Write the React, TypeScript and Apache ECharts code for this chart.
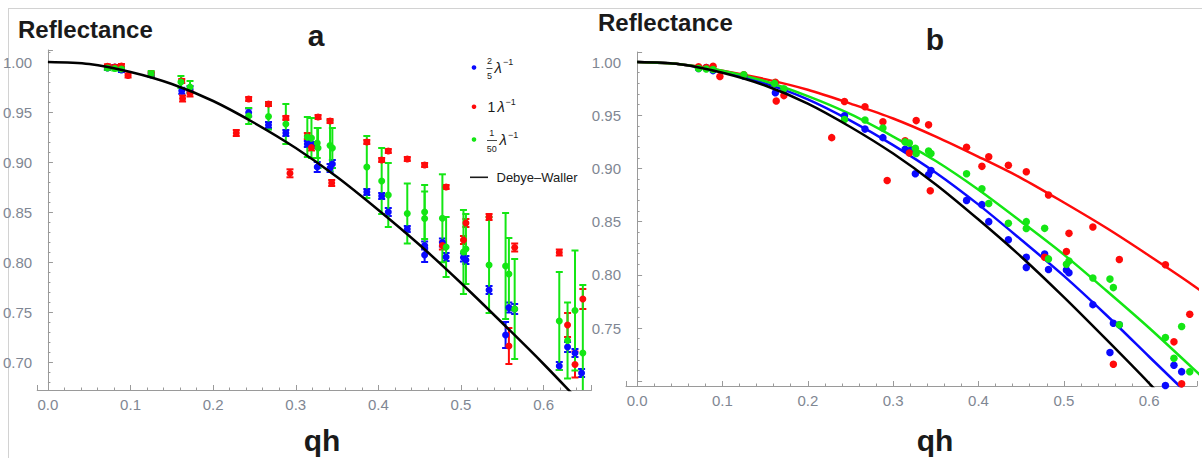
import React, { useEffect, useRef } from "react";
import * as echarts from "echarts";

// ---- data ----
// 2/5 λ^-1 (blue)
const blueQ = [0.072, 0.081, 0.089, 0.125, 0.162, 0.172, 0.243, 0.267, 0.288, 0.314, 0.32, 0.326, 0.3415, 0.3443, 0.386, 0.404, 0.412, 0.435, 0.456, 0.456, 0.4775, 0.482, 0.503, 0.506, 0.534, 0.554, 0.558, 0.565, 0.619, 0.629, 0.638, 0.646];
const blueR = [0.994, 0.995, 0.992, 0.987, 0.9712, 0.973, 0.9495, 0.937, 0.929, 0.918, 0.917, 0.895, 0.894, 0.898, 0.87, 0.866, 0.85, 0.833, 0.8165, 0.807, 0.8195, 0.805, 0.8045, 0.802, 0.772, 0.727, 0.7545, 0.753, 0.696, 0.715, 0.709, 0.689];
const blueErr = [0.002, 0.002, 0.002, 0.002, 0.003, 0.003, 0.004, 0.003, 0.003, 0.003, 0.003, 0.005, 0.004, 0.004, 0.003, 0.003, 0.004, 0.003, 0.004, 0.007, 0.004, 0.004, 0.004, 0.004, 0.004, 0.013, 0.005, 0.005, 0.004, 0.005, 0.004, 0.004];

// 1 λ^-1 (red)
const redQ = [0.072, 0.081, 0.089, 0.097, 0.125, 0.162, 0.163, 0.172, 0.228, 0.243, 0.267, 0.288, 0.293, 0.314, 0.319, 0.327, 0.3415, 0.3435, 0.386, 0.404, 0.412, 0.435, 0.456, 0.4775, 0.482, 0.503, 0.506, 0.534, 0.558, 0.565, 0.619, 0.629, 0.638, 0.6475];
const redR = [0.9957, 0.995, 0.996, 0.9865, 0.988, 0.981, 0.9635, 0.9685, 0.929, 0.963, 0.958, 0.944, 0.8887, 0.926, 0.9145, 0.945, 0.941, 0.879, 0.92, 0.902, 0.911, 0.903, 0.897, 0.8165, 0.875, 0.822, 0.839, 0.845, 0.716, 0.8145, 0.8095, 0.737, 0.6975, 0.763];
const redErr = [0.002, 0.002, 0.002, 0.002, 0.002, 0.002, 0.003, 0.003, 0.003, 0.002, 0.002, 0.002, 0.004, 0.003, 0.003, 0.002, 0.002, 0.003, 0.002, 0.002, 0.002, 0.002, 0.002, 0.004, 0.002, 0.004, 0.004, 0.003, 0.018, 0.004, 0.003, 0.012, 0.013, 0.01];

// 1/50 λ^-1 (green)
const greenQ = [0.072, 0.081, 0.089, 0.125, 0.161, 0.172, 0.243, 0.267, 0.288, 0.314, 0.319, 0.326, 0.327, 0.3415, 0.3443, 0.386, 0.404, 0.412, 0.435, 0.456, 0.456, 0.4775, 0.482, 0.503, 0.506, 0.534, 0.554, 0.558, 0.565, 0.619, 0.629, 0.638, 0.6475];
const greenR = [0.994, 0.9935, 0.993, 0.988, 0.98, 0.975, 0.946, 0.9455, 0.938, 0.925, 0.924, 0.919, 0.914, 0.9165, 0.914, 0.895, 0.881, 0.867, 0.8485, 0.85, 0.8435, 0.8437, 0.815, 0.81, 0.813, 0.797, 0.796, 0.788, 0.753, 0.741, 0.7215, 0.7515, 0.709];
const greenErr = [0.002, 0.002, 0.002, 0.003, 0.006, 0.006, 0.008, 0.013, 0.02, 0.02, 0.02, 0.015, 0.02, 0.025, 0.02, 0.031, 0.033, 0.032, 0.03, 0.027, 0.027, 0.044, 0.03, 0.042, 0.035, 0.048, 0.053, 0.036, 0.05, 0.049, 0.038, 0.06, 0.068];

// curves
const curveQ = [0, 0.05, 0.1, 0.15, 0.2, 0.25, 0.3, 0.35, 0.4, 0.45, 0.5, 0.55, 0.6, 0.65, 0.7];
const debyeWallerR = [1.0, 0.998, 0.99, 0.978, 0.961, 0.939, 0.914, 0.885, 0.852, 0.817, 0.779, 0.739, 0.698, 0.655, 0.613];
const blueFitR = [1.0, 0.998, 0.991, 0.98, 0.965, 0.945, 0.922, 0.896, 0.866, 0.833, 0.799, 0.762, 0.723, 0.684, 0.643];
const greenFitR = [1.0, 0.998, 0.992, 0.982, 0.968, 0.951, 0.93, 0.907, 0.88, 0.85, 0.819, 0.785, 0.75, 0.713, 0.676];
const redFitR = [1.0, 0.998, 0.992, 0.984, 0.974, 0.961, 0.947, 0.93, 0.911, 0.891, 0.868, 0.844, 0.818, 0.791, 0.762];

// tick labels left out next to the axes' crossing point in panel b
const hiddenYLabelsB = [0.7];

const BLUE = "#0a0aff";
const RED = "#ff0a0a";
const GREEN = "#14e614";
const AXIS = "#9a9a9a";
const LABEL = "#7f8793";
const TXT = "#1a1a1a";

const pts = (q: number[], r: number[], e?: number[]) =>
  q.map((v, i) => (e ? [v, r[i], e[i]] : [v, r[i]]));

function errSeries(name: string, data: number[][], color: string) {
  return {
    name: name + " err",
    type: "custom",
    xAxisIndex: 0,
    yAxisIndex: 0,
    clip: true,
    encode: { x: 0, y: 1 },
    data,
    z: 2,
    renderItem: (_p: any, api: any) => {
      const x = api.value(0);
      const y = api.value(1);
      const e = api.value(2);
      const t = api.coord([x, y + e]);
      const b = api.coord([x, y - e]);
      const hw = 3.5;
      const st = { stroke: color, lineWidth: 2 };
      return {
        type: "group",
        children: [
          { type: "line", shape: { x1: t[0], y1: t[1], x2: b[0], y2: b[1] }, style: st },
          { type: "line", shape: { x1: t[0] - hw, y1: t[1], x2: t[0] + hw, y2: t[1] }, style: st },
          { type: "line", shape: { x1: b[0] - hw, y1: b[1], x2: b[0] + hw, y2: b[1] }, style: st },
        ],
      };
    },
  };
}

function scatter(name: string, data: number[][], color: string, idx: number) {
  return {
    name,
    type: "scatter",
    xAxisIndex: idx,
    yAxisIndex: idx,
    data: data.map((d) => [d[0], d[1]]),
    symbolSize: idx === 0 ? 7 : 7.5,
    itemStyle: { color, opacity: 1 },
    z: 3,
  };
}

function curve(name: string, r: number[], color: string, idx: number, width: number, z: number) {
  return {
    name,
    type: "line",
    xAxisIndex: idx,
    yAxisIndex: idx,
    data: pts(curveQ, r),
    smooth: 0.3,
    showSymbol: false,
    symbol: "none",
    clip: true,
    lineStyle: { color, width },
    z,
  };
}

function xAxis(grid: number, max: number) {
  return {
    type: "value",
    gridIndex: grid,
    min: -0.013,
    max,
    splitNumber: 6,
    axisLine: { onZero: false, lineStyle: { color: AXIS, width: 1 } },
    axisTick: { show: true, inside: true, length: 5, lineStyle: { color: AXIS } },
    minorTick: { show: true, splitNumber: 5, length: 2.5, lineStyle: { color: AXIS } },
    splitLine: { show: false },
    axisLabel: {
      showMinLabel: false,
      showMaxLabel: false,
      color: LABEL,
      fontSize: 15,
      fontFamily: "Liberation Sans",
      margin: 7,
      formatter: (v: number) => v.toFixed(1),
    },
  };
}

function yAxis(grid: number, min: number, max: number, hidden: number[]) {
  return {
    type: "value",
    gridIndex: grid,
    min,
    max,
    splitNumber: 6,
    axisLine: { onZero: true, lineStyle: { color: AXIS, width: 1 } },
    axisTick: { show: true, inside: true, length: 5, lineStyle: { color: AXIS } },
    minorTick: { show: true, splitNumber: 5, length: 2.5, lineStyle: { color: AXIS } },
    splitLine: { show: false },
    axisLabel: {
      showMinLabel: false,
      showMaxLabel: false,
      color: LABEL,
      fontSize: 15,
      fontFamily: "Liberation Sans",
      margin: 5,
      formatter: (v: number) => (hidden.some((h) => Math.abs(h - v) < 1e-6) ? "" : v.toFixed(2)),
    },
  };
}

function txt(text: string, x: number, y: number, font: string, align = "left", fill = TXT) {
  return {
    type: "text",
    x,
    y,
    silent: true,
    style: { text, font, fill, textAlign: align, textVerticalAlign: "middle" },
  };
}

export default function App() {
  const ref = useRef<HTMLDivElement>(null);
  useEffect(() => {
    if (!ref.current) return;
    const chart = echarts.init(ref.current, null, { renderer: "svg" });
    const blue = pts(blueQ, blueR, blueErr);
    const red = pts(redQ, redR, redErr);
    const green = pts(greenQ, greenR, greenErr);
    const ff = "'Liberation Sans', Arial, sans-serif";
    const option: any = {
      animation: false,
      backgroundColor: "#ffffff",
      grid: [
        { left: 36.5, top: 50, width: 555, height: 340 },
        { left: 626, top: 52, width: 571, height: 334 },
      ],
      xAxis: [xAxis(0, 0.658), xAxis(1, 0.656)],
      yAxis: [yAxis(0, 0.672, 1.012, []), yAxis(1, 0.6955, 1.0095, hiddenYLabelsB)],
      series: [
        // panel a
        scatter("2/5 λ⁻¹", blue, BLUE, 0),
        errSeries("blue", blue, BLUE),
        scatter("1 λ⁻¹", red, RED, 0),
        errSeries("red", red, RED),
        scatter("1/50 λ⁻¹", green, GREEN, 0),
        errSeries("green", green, GREEN),
        curve("Debye–Waller", debyeWallerR, "#000", 0, 2.5, 6),
        // panel b
        curve("fit 2/5", blueFitR, BLUE, 1, 2.5, 2),
        curve("fit 1", redFitR, RED, 1, 2.5, 2),
        curve("fit 1/50", greenFitR, GREEN, 1, 2.5, 2),
        scatter("b 2/5", blue, BLUE, 1),
        scatter("b 1", red, RED, 1),
        scatter("b 1/50", green, GREEN, 1),
        curve("b Debye–Waller", debyeWallerR, "#000", 1, 2.5, 6),
      ],
      graphic: [
        { type: "line", shape: { x1: 8, y1: 8.5, x2: 1202, y2: 8.5 }, style: { stroke: "#d2d2d2", lineWidth: 1 }, silent: true },
        { type: "line", shape: { x1: 8.5, y1: 8, x2: 8.5, y2: 458 }, style: { stroke: "#d2d2d2", lineWidth: 1 }, silent: true },
        txt("Reflectance", 18, 29, `bold 24px ${ff}`),
        txt("a", 316, 35, `bold 30px ${ff}`, "center"),
        txt("qh", 322, 440, `bold 30px ${ff}`, "center"),
        txt("Reflectance", 598, 22, `bold 24px ${ff}`),
        txt("b", 935, 39, `bold 30px ${ff}`, "center"),
        txt("qh", 935, 440, `bold 30px ${ff}`, "center"),
        // legend
        { type: "circle", shape: { cx: 474, cy: 67.5, r: 2.3 }, style: { fill: BLUE }, silent: true },
        txt("2", 489.5, 61, `9px ${ff}`, "center"),
        { type: "line", shape: { x1: 486.5, y1: 68.5, x2: 492.5, y2: 68.5 }, style: { stroke: TXT, lineWidth: 0.8 }, silent: true },
        txt("5", 489.5, 76, `9px ${ff}`, "center"),
        txt("λ", 494.5, 67.5, `italic 15px ${ff}`),
        txt("−1", 503, 62, `9px ${ff}`),
        { type: "circle", shape: { cx: 474, cy: 106.7, r: 2.3 }, style: { fill: RED }, silent: true },
        txt("1", 487.5, 106.5, `14px ${ff}`),
        txt("λ", 497.5, 106.5, `italic 15px ${ff}`),
        txt("−1", 505.5, 101.5, `9px ${ff}`),
        { type: "circle", shape: { cx: 474, cy: 139.5, r: 2.3 }, style: { fill: GREEN }, silent: true },
        txt("1", 491.7, 132.5, `9px ${ff}`, "center"),
        { type: "line", shape: { x1: 487, y1: 140.5, x2: 497, y2: 140.5 }, style: { stroke: TXT, lineWidth: 0.8 }, silent: true },
        txt("50", 491.7, 148.5, `9px ${ff}`, "center"),
        txt("λ", 499.5, 139.5, `italic 15px ${ff}`),
        txt("−1", 508, 134.5, `9px ${ff}`),
        { type: "line", shape: { x1: 470, y1: 177.3, x2: 488, y2: 177.3 }, style: { stroke: TXT, lineWidth: 1.6 }, silent: true },
        txt("Debye–Waller", 496.5, 177, `13px ${ff}`),
      ],
    };
    chart.setOption(option);
    return () => chart.dispose();
  }, []);
  return (
    <div
      ref={ref}
      style={{ position: "fixed", left: 0, top: 0, width: "1202px", height: "458px", background: "#fff" }}
    />
  );
}
